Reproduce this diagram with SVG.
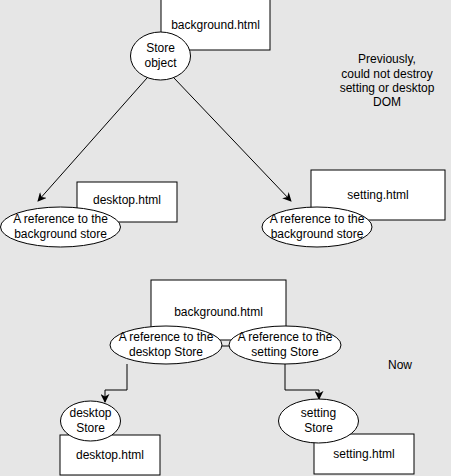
<svg xmlns="http://www.w3.org/2000/svg" width="451" height="476" viewBox="0 0 451 476">
<defs>
<marker id="arr" viewBox="0 0 10 10" refX="9" refY="5" markerWidth="9" markerHeight="9" markerUnits="userSpaceOnUse" orient="auto">
<path d="M0,0 L10,5 L0,10 L3,5 Z" fill="#000"/>
</marker>
</defs>
<style>
.box{fill:#fff;stroke:#000;stroke-width:1}
.ell{fill:#fff;stroke:#000;stroke-width:1}
text{font-family:"Liberation Sans",Arial,sans-serif;font-size:12px;fill:#000;text-anchor:middle}
.edge{fill:none;stroke:#000;stroke-width:1}
</style>
<rect width="451" height="476" fill="#e6e6e6"/>
<g id="bg-top">
<rect class="box" x="161" y="-1" width="109" height="51"/>
<text x="215.5" y="29">background.html</text>
</g>
<g id="desktop-top">
<rect class="box" x="77" y="182" width="100" height="40"/>
<text x="127" y="204">desktop.html</text>
</g>
<g id="setting-top">
<rect class="box" x="311" y="170" width="134" height="50"/>
<text x="378" y="199">setting.html</text>
</g>
<g id="store-object">
<ellipse class="ell" cx="160.5" cy="56" rx="30" ry="24"/>
<text x="160.5" y="52">Store</text>
<text x="160.5" y="67">object</text>
</g>
<g id="ref-left">
<ellipse class="ell" cx="60.5" cy="227" rx="60" ry="20"/>
<text x="60.5" y="223">A reference to the</text>
<text x="60.5" y="238">background store</text>
</g>
<g id="ref-right">
<ellipse class="ell" cx="317" cy="227" rx="55" ry="20"/>
<text x="317" y="223">A reference to the</text>
<text x="317" y="238">background store</text>
</g>
<g id="note-prev">
<text x="387" y="63">Previously,</text>
<text x="387" y="78">could not destroy</text>
<text x="387" y="92">setting or desktop</text>
<text x="387" y="106">DOM</text>
</g>
<g id="bg-bottom">
<rect class="box" x="151" y="280" width="135" height="60"/>
<text x="218.5" y="316">background.html</text>
</g>
<g id="desktop-bottom">
<rect class="box" x="60" y="435" width="100" height="40"/>
<text x="110" y="459">desktop.html</text>
</g>
<g id="setting-bottom">
<rect class="box" x="314" y="434" width="100" height="40"/>
<text x="364" y="458">setting.html</text>
</g>
<g id="connectors">
<path class="edge" d="M147,78 L38,201" marker-end="url(#arr)"/>
<path class="edge" d="M174,78 L291,201" marker-end="url(#arr)"/>
<path class="edge" d="M222,346 L229,346"/>
<path class="edge" d="M127,364 L127,390 L105,390 L105,402" marker-end="url(#arr)"/>
<path class="edge" d="M285,364 L285,390 L319,390 L319,399" marker-end="url(#arr)"/>
</g>
<g id="ref-desktop">
<ellipse class="ell" cx="166" cy="345" rx="56" ry="19"/>
<text x="166" y="341">A reference to the</text>
<text x="166" y="356">desktop Store</text>
</g>
<g id="ref-setting">
<ellipse class="ell" cx="285" cy="345" rx="56" ry="19"/>
<text x="285" y="341">A reference to the</text>
<text x="285" y="356">setting Store</text>
</g>
<g id="desktop-store">
<ellipse class="ell" cx="90.5" cy="421" rx="30" ry="20"/>
<text x="90.5" y="417">desktop</text>
<text x="90.5" y="432">Store</text>
</g>
<g id="setting-store">
<ellipse class="ell" cx="318.5" cy="421" rx="40" ry="22"/>
<text x="318.5" y="417">setting</text>
<text x="318.5" y="432">Store</text>
</g>
<g id="note-now">
<text x="400" y="369">Now</text>
</g>
</svg>
